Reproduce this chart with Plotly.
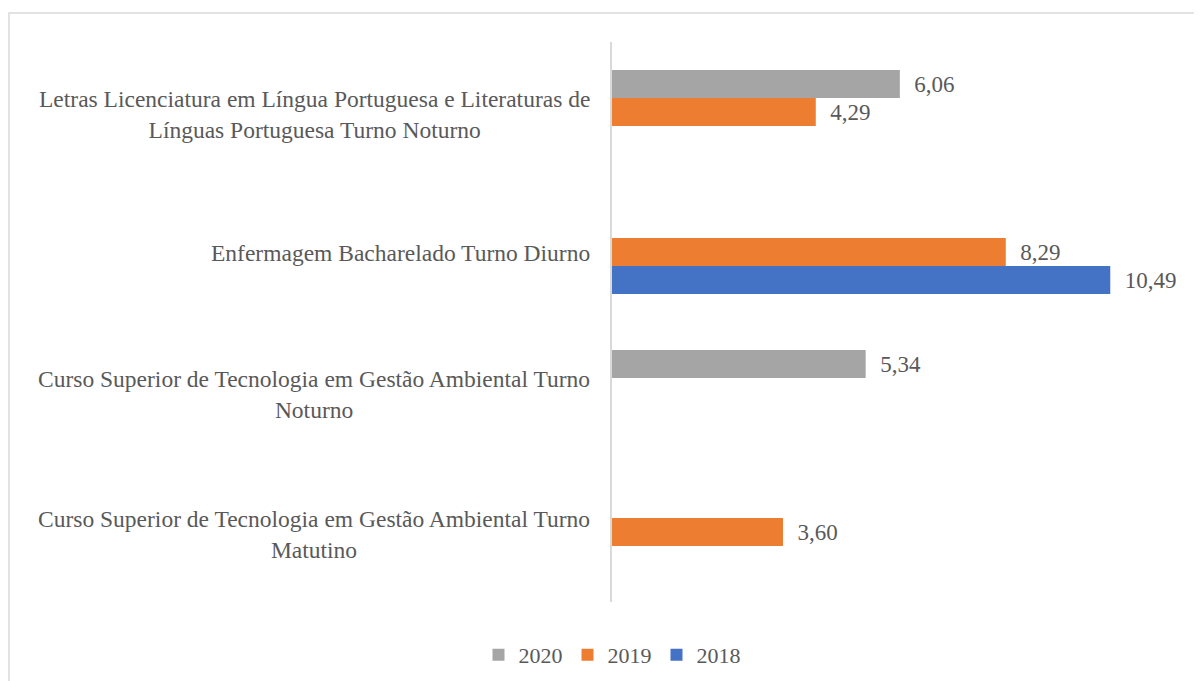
import plotly.graph_objects as go

categories = [
    "Letras Licenciatura em Língua Portuguesa e Literaturas de<br>Línguas Portuguesa Turno Noturno",
    "Enfermagem Bacharelado Turno Diurno",
    "Curso Superior de Tecnologia em Gestão Ambiental Turno<br>Noturno",
    "Curso Superior de Tecnologia em Gestão Ambiental Turno<br>Matutino",
]
cat_ids = ["Letras", "Enfermagem", "GA Noturno", "GA Matutino"]
series_names = ["2020", "2019", "2018"]
values_2020 = [6.06, None, 5.34, None]
values_2019 = [4.29, 8.29, None, 3.60]
values_2018 = [None, 10.49, None, None]
colors = ["#A5A5A5", "#ED7D31", "#4472C4"]

# page offset of 8px (body margin)
OFF = 8
W, H = 1194, 673
ML, MT = 612 - OFF, 42 - OFF
MR = W - (1182 - OFF)
MB = H - (602 - OFF)
PW, PH = W - ML - MR, H - MT - MB
FONT = "Liberation Serif, Times New Roman, serif"
TXT = "#595959"

fig = go.Figure()
for name, vals, col in zip(series_names, [values_2020, values_2019, values_2018], colors):
    fig.add_trace(go.Bar(
        y=cat_ids, x=vals, name=name, orientation="h",
        marker=dict(color=col, line=dict(width=0)),
        texttemplate="\u00a0\u00a0%{x:.2f}", textposition="outside",
        textfont=dict(family=FONT, size=23, color=TXT),
        cliponaxis=False,
    ))


def px_x(p):
    return (p - OFF - ML) / PW


def px_y(p):
    return (H - MB - (p - OFF)) / PH


for cid, label in zip(cat_ids, categories):
    fig.add_annotation(
        x=px_x(592), xref="paper", y=cid, yref="y",
        text=label, showarrow=False, xanchor="right", yanchor="middle", align="center",
        yshift=-2 if "<br>" in label else -1,
        font=dict(family=FONT, size=23.5, color=TXT),
    )

fig.add_shape(type="rect", xref="paper", yref="paper",
              x0=px_x(9), x1=px_x(1230), y0=px_y(700), y1=px_y(13),
              line=dict(color="#D9D9D9", width=1.5), layer="below")

fig.update_layout(
    width=W, height=H,
    margin=dict(l=ML, r=MR, t=MT, b=MB, autoexpand=False),
    paper_bgcolor="white", plot_bgcolor="white",
    barmode="group", bargap=0.4, bargroupgap=0,
    separators=",.",
    font=dict(family=FONT, color=TXT),
    showlegend=True,
    legend=dict(orientation="h", x=px_x(612), xanchor="center", y=px_y(655), yanchor="middle",
                font=dict(family=FONT, size=22, color=TXT), traceorder="normal"),
    xaxis=dict(range=[0, 12], visible=False, showgrid=False, zeroline=False),
    yaxis=dict(autorange="reversed", showticklabels=False, showgrid=False, zeroline=False,
               showline=True, linecolor="#D9D9D9", linewidth=1.5, ticks=""),
)

fig.write_html("out.html")
